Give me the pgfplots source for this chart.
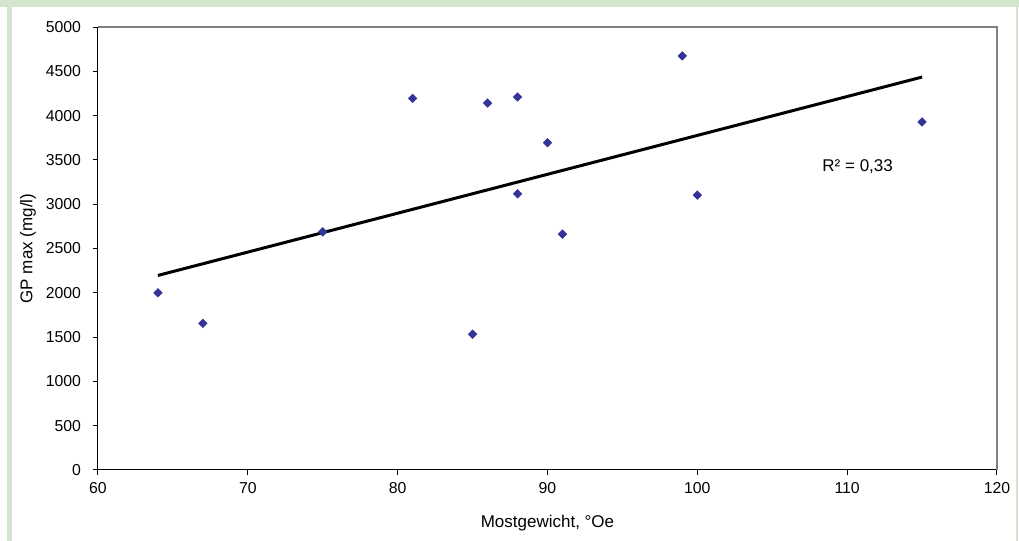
\documentclass[border=0pt]{standalone}
\usepackage{pgfplots}
\pgfplotsset{compat=1.18}
\usepackage{fontspec}
\setmainfont{Liberation Sans}
\definecolor{frame}{RGB}{210,230,205}
\definecolor{navy}{RGB}{51,51,153}
\definecolor{bord}{RGB}{128,128,128}
\begin{document}
\begin{tikzpicture}
\fill[white] (0,0) rectangle (509.5pt,270.5pt);
\fill[frame] (0,267pt) rectangle (509.5pt,270.5pt);
\fill[frame] (3.5pt,0) rectangle (6pt,267pt);
\fill[frame] (508.2pt,0) rectangle (509.2pt,267pt);
\begin{axis}[
  at={(49pt,35.5pt)}, anchor=south west,
  scale only axis, width=449.5pt, height=221.5pt,
  xmin=60, xmax=120, ymin=0, ymax=5000,
  xtick={60,70,...,120}, ytick={0,500,...,5000},
  axis lines*=left, axis line style={black, line width=0.5pt, -},
  tick align=outside, tick pos=left, major tick length=2.5pt,
  tick style={black, line width=0.5pt},
  /pgf/number format/assume math mode=true,
  /pgf/number format/1000 sep={},
  ticklabel style={font=\fontsize{7.9}{9}\selectfont},
  yticklabel style={xshift=-2.5pt},
  label style={font=\fontsize{8.5}{10}\selectfont},
  xlabel={Mostgewicht, °Oe},
  ylabel={GP max (mg/l)},
  xlabel style={at={(axis description cs:0.5,0)}, anchor=center, yshift=-26.5pt},
  ylabel style={at={(axis description cs:0,0.5)}, anchor=center, yshift=35pt},
  clip=false,
]
\draw[bord, line width=1pt] (rel axis cs:0,1) -- (rel axis cs:1,1) -- (rel axis cs:1,0);
\addplot[black, line width=1.5pt] coordinates {(64,2196) (115,4435)};
\addplot[only marks, mark=square*, mark size=1.45pt, color=navy,
  every mark/.append style={rotate=45}] coordinates {
  (64,2000) (67,1655) (75,2688) (81,4195) (85,1533) (86,4142) (88,4210)
  (88,3117) (90,3693) (91,2662) (99,4673) (100,3102) (115,3928)
};
\node[font=\fontsize{8.5}{10}\selectfont, anchor=center] at (axis cs:110.7,3420) {R² = 0,33};
\end{axis}
\end{tikzpicture}
\end{document}
